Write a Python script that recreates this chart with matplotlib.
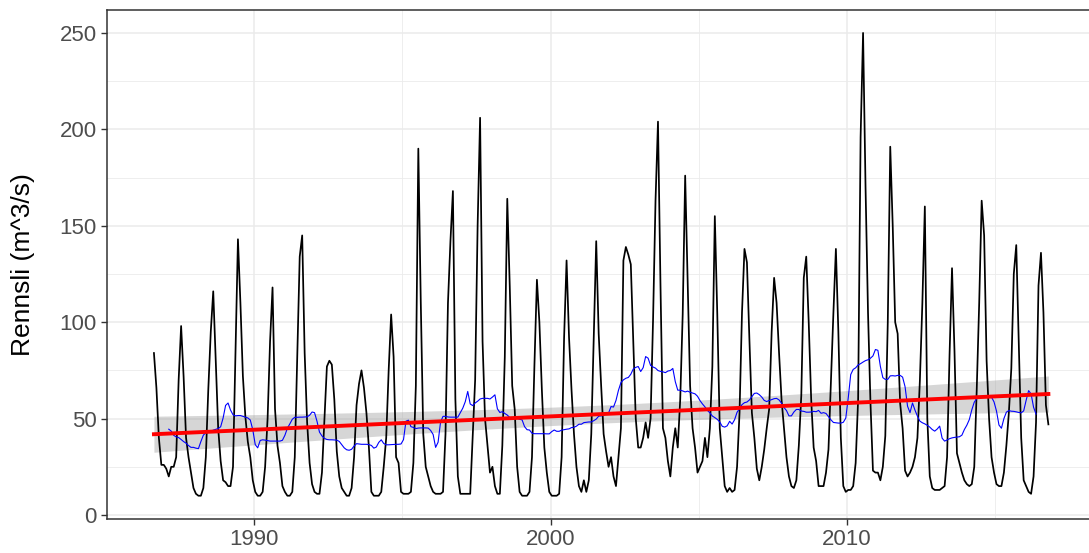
import numpy as np
import pandas as pd
import matplotlib
matplotlib.use("Agg")
import matplotlib.pyplot as plt
from matplotlib.ticker import MultipleLocator

plt.rcParams['font.family'] = ['Liberation Sans', 'DejaVu Sans']

# monthly runoff (m^3/s), series starts in August 1986 and ends in October 2016
start_year = 1986
start_month = 8

flow_1986 = [84, 66, 40, 26, 26]
flow_1987 = [24, 20, 25, 25, 30, 70, 98, 72, 40, 30, 22, 14]
flow_1988 = [11, 10, 10, 14, 30, 65, 95, 116, 80, 45, 28, 18]
flow_1989 = [17, 15, 15, 25, 85, 143, 110, 72, 51, 38, 30, 18]
flow_1990 = [12, 10, 10, 12, 25, 50, 90, 118, 55, 36, 27, 15]
flow_1991 = [12, 10, 10, 12, 30, 81, 134, 145, 84, 48, 27, 16]
flow_1992 = [12, 11, 11, 22, 50, 77, 80, 78, 60, 33, 20, 14]
flow_1993 = [12, 10, 10, 14, 30, 57, 68, 75, 66, 53, 35, 12]
flow_1994 = [10, 10, 10, 12, 25, 40, 75, 104, 82, 30, 27, 12]
flow_1995 = [11, 11, 11, 12, 27, 67, 190, 110, 42, 25, 20, 15]
flow_1996 = [12, 11, 11, 11, 12, 42, 110, 142, 168, 60, 20, 11]
flow_1997 = [11, 11, 11, 11, 40, 70, 150, 206, 90, 50, 36, 22]
flow_1998 = [25, 15, 11, 11, 36, 82, 164, 119, 67, 55, 25, 12]
flow_1999 = [10, 10, 10, 12, 30, 78, 122, 100, 65, 35, 22, 12]
flow_2000 = [10, 10, 10, 11, 30, 92, 132, 92, 65, 42, 25, 15]
flow_2001 = [12, 18, 12, 18, 42, 92, 142, 94, 67, 42, 33, 25]
flow_2002 = [30, 20, 15, 30, 45, 132, 139, 135, 130, 90, 50, 35]
flow_2003 = [35, 40, 48, 40, 50, 101, 163, 204, 120, 45, 40, 28]
flow_2004 = [20, 35, 45, 35, 60, 104, 176, 122, 67, 45, 35, 22]
flow_2005 = [25, 28, 40, 30, 45, 77, 155, 104, 45, 30, 15, 12]
flow_2006 = [14, 12, 13, 25, 53, 105, 138, 131, 91, 53, 40, 24]
flow_2007 = [18, 25, 34, 45, 55, 95, 123, 110, 84, 60, 45, 30]
flow_2008 = [20, 15, 14, 18, 36, 62, 123, 134, 100, 60, 35, 28]
flow_2009 = [15, 15, 15, 22, 34, 70, 105, 138, 95, 40, 15, 12]
flow_2010 = [13, 13, 15, 27, 60, 196, 250, 170, 105, 58, 23, 22]
flow_2011 = [22, 18, 25, 41, 100, 191, 150, 100, 94, 58, 45, 23]
flow_2012 = [20, 22, 25, 30, 40, 70, 110, 160, 50, 20, 14, 13]
flow_2013 = [13, 13, 14, 15, 30, 83, 128, 85, 32, 27, 22, 18]
flow_2014 = [16, 15, 16, 25, 65, 110, 163, 145, 80, 50, 30, 22]
flow_2015 = [16, 15, 15, 22, 36, 53, 76, 125, 140, 90, 40, 18]
flow_2016 = [15, 12, 11, 20, 48, 119, 136, 105, 57, 47]

x_ticks = [1990, 2000, 2010]
y_ticks = [0, 50, 100, 150, 200, 250]
y_label = "Rennsli (m^3/s)"

flow = np.array(flow_1986 + flow_1987 + flow_1988 + flow_1989 + flow_1990
                + flow_1991 + flow_1992 + flow_1993 + flow_1994 + flow_1995
                + flow_1996 + flow_1997 + flow_1998 + flow_1999 + flow_2000
                + flow_2001 + flow_2002 + flow_2003 + flow_2004 + flow_2005
                + flow_2006 + flow_2007 + flow_2008 + flow_2009 + flow_2010
                + flow_2011 + flow_2012 + flow_2013 + flow_2014 + flow_2015
                + flow_2016, dtype=float)
t = start_year + (start_month - 1) / 12 + np.arange(len(flow)) / 12 + 0.5 / 12

# 12 month running mean
roll = pd.Series(flow).rolling(12, center=True).mean().to_numpy()

# linear trend with 95% confidence band (like geom_smooth(method="lm"))
n = len(t)
slope, intercept = np.polyfit(t, flow, 1)
fit = intercept + slope * t
resid = flow - fit
s = np.sqrt(np.sum(resid ** 2) / (n - 2))
se = s * np.sqrt(1 / n + (t - t.mean()) ** 2 / np.sum((t - t.mean()) ** 2))
lo = fit - 1.967 * se
hi = fit + 1.967 * se

fig = plt.figure(figsize=(10.89, 5.53), dpi=100)
ax = fig.add_axes([107 / 1089, 1 - 519 / 553, 985.6 / 1089, 509 / 553])

ax.fill_between(t, lo, hi, color="#999999", alpha=0.4, linewidth=0, zorder=2)
ax.plot(t, flow, color="black", lw=1.25, zorder=3)
ax.plot(t, roll, color="#0000FF", lw=0.8, zorder=4)
ax.plot(t, fit, color="#FF0000", lw=2.8, zorder=5)

ax.set_xlim(1985.042, 2018.283)
ax.set_ylim(-2.07, 261.9)
ax.set_xticks(x_ticks)
ax.set_yticks(y_ticks)
ax.xaxis.set_minor_locator(MultipleLocator(5))
ax.yaxis.set_minor_locator(MultipleLocator(25))

ax.grid(True, which="major", color="#EBEBEB", lw=1.1, zorder=0)
ax.grid(True, which="minor", color="#EBEBEB", lw=0.6, zorder=0)
ax.set_axisbelow(True)

for sp in ax.spines.values():
    sp.set_color("#333333")
    sp.set_linewidth(1.1)

ax.tick_params(which="major", length=4, width=1, color="#333333",
               labelcolor="#4D4D4D", labelsize=16, pad=3.5)
ax.tick_params(which="minor", length=0)

ax.set_ylabel(y_label, fontsize=19, color="black")
ax.yaxis.set_label_coords(-0.073, 0.5)

fig.savefig("out.png", dpi=100)
